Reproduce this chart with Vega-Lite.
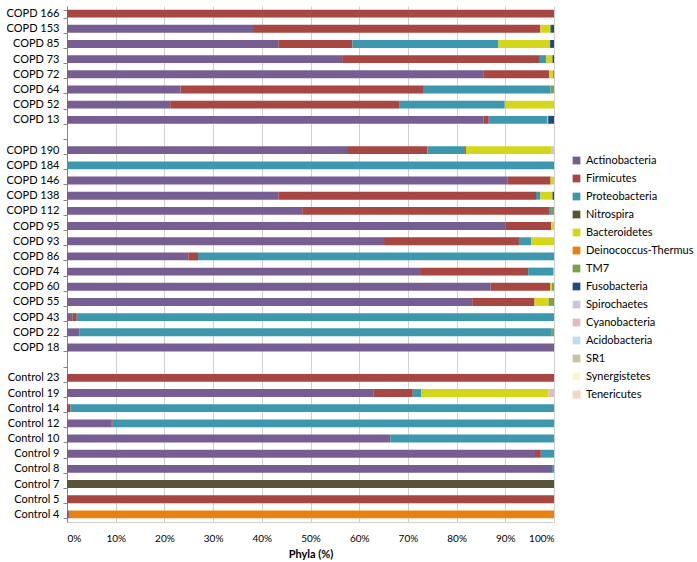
{
  "$schema": "https://vega.github.io/schema/vega-lite/v6.json",
  "width": 487,
  "height": 516,
  "padding": {"left": 6, "top": 0, "right": 5, "bottom": 2},
  "background": "white",
  "config": {"view": {"stroke": null}, "font": "Lato"},
  "datasets": {
    "phyla": [
      {"p": "Actinobacteria", "k": 1},
      {"p": "Firmicutes", "k": 2},
      {"p": "Proteobacteria", "k": 3},
      {"p": "Nitrospira", "k": 4},
      {"p": "Bacteroidetes", "k": 5},
      {"p": "Deinococcus-Thermus", "k": 6},
      {"p": "TM7", "k": 7},
      {"p": "Fusobacteria", "k": 8},
      {"p": "Spirochaetes", "k": 9},
      {"p": "Cyanobacteria", "k": 10},
      {"p": "Acidobacteria", "k": 11},
      {"p": "SR1", "k": 12},
      {"p": "Synergistetes", "k": 13},
      {"p": "Tenericutes", "k": 14}
    ]
  },
  "data": {"values": [
    {"s": "COPD 166", "p": "Firmicutes", "v": 100},
    {"s": "COPD 153", "p": "Actinobacteria", "v": 38.2},
    {"s": "COPD 153", "p": "Firmicutes", "v": 59.0},
    {"s": "COPD 153", "p": "TM7", "v": 0.3},
    {"s": "COPD 153", "p": "Bacteroidetes", "v": 1.9},
    {"s": "COPD 153", "p": "Fusobacteria", "v": 0.6},
    {"s": "COPD 85", "p": "Actinobacteria", "v": 43.4},
    {"s": "COPD 85", "p": "Firmicutes", "v": 15.2},
    {"s": "COPD 85", "p": "Proteobacteria", "v": 30.0},
    {"s": "COPD 85", "p": "Bacteroidetes", "v": 10.6},
    {"s": "COPD 85", "p": "Fusobacteria", "v": 0.8},
    {"s": "COPD 73", "p": "Actinobacteria", "v": 56.5},
    {"s": "COPD 73", "p": "Firmicutes", "v": 40.6},
    {"s": "COPD 73", "p": "Proteobacteria", "v": 1.3},
    {"s": "COPD 73", "p": "Bacteroidetes", "v": 1.3},
    {"s": "COPD 73", "p": "Fusobacteria", "v": 0.3},
    {"s": "COPD 72", "p": "Actinobacteria", "v": 85.6},
    {"s": "COPD 72", "p": "Firmicutes", "v": 13.4},
    {"s": "COPD 72", "p": "Bacteroidetes", "v": 0.8},
    {"s": "COPD 72", "p": "TM7", "v": 0.2},
    {"s": "COPD 64", "p": "Actinobacteria", "v": 23.3},
    {"s": "COPD 64", "p": "Firmicutes", "v": 49.8},
    {"s": "COPD 64", "p": "Proteobacteria", "v": 26.2},
    {"s": "COPD 64", "p": "TM7", "v": 0.7},
    {"s": "COPD 52", "p": "Actinobacteria", "v": 21.2},
    {"s": "COPD 52", "p": "Firmicutes", "v": 47.0},
    {"s": "COPD 52", "p": "Proteobacteria", "v": 21.7},
    {"s": "COPD 52", "p": "Bacteroidetes", "v": 10.1},
    {"s": "COPD 13", "p": "Actinobacteria", "v": 85.5},
    {"s": "COPD 13", "p": "Firmicutes", "v": 1.1},
    {"s": "COPD 13", "p": "Proteobacteria", "v": 12.0},
    {"s": "COPD 13", "p": "Bacteroidetes", "v": 0.2},
    {"s": "COPD 13", "p": "Fusobacteria", "v": 1.2},
    {"s": "COPD 190", "p": "Actinobacteria", "v": 57.5},
    {"s": "COPD 190", "p": "Firmicutes", "v": 16.5},
    {"s": "COPD 190", "p": "Proteobacteria", "v": 7.6},
    {"s": "COPD 190", "p": "Nitrospira", "v": 0.3},
    {"s": "COPD 190", "p": "Bacteroidetes", "v": 17.5},
    {"s": "COPD 190", "p": "Spirochaetes", "v": 0.6},
    {"s": "COPD 184", "p": "Proteobacteria", "v": 100},
    {"s": "COPD 146", "p": "Actinobacteria", "v": 90.5},
    {"s": "COPD 146", "p": "Firmicutes", "v": 8.8},
    {"s": "COPD 146", "p": "Bacteroidetes", "v": 0.7},
    {"s": "COPD 138", "p": "Actinobacteria", "v": 43.4},
    {"s": "COPD 138", "p": "Firmicutes", "v": 52.9},
    {"s": "COPD 138", "p": "Proteobacteria", "v": 0.9},
    {"s": "COPD 138", "p": "Bacteroidetes", "v": 2.5},
    {"s": "COPD 138", "p": "Fusobacteria", "v": 0.3},
    {"s": "COPD 112", "p": "Actinobacteria", "v": 48.3},
    {"s": "COPD 112", "p": "Firmicutes", "v": 50.7},
    {"s": "COPD 112", "p": "Proteobacteria", "v": 0.4},
    {"s": "COPD 112", "p": "TM7", "v": 0.6},
    {"s": "COPD 95", "p": "Actinobacteria", "v": 90.0},
    {"s": "COPD 95", "p": "Firmicutes", "v": 9.4},
    {"s": "COPD 95", "p": "Bacteroidetes", "v": 0.6},
    {"s": "COPD 93", "p": "Actinobacteria", "v": 65.1},
    {"s": "COPD 93", "p": "Firmicutes", "v": 27.7},
    {"s": "COPD 93", "p": "Proteobacteria", "v": 2.5},
    {"s": "COPD 93", "p": "Bacteroidetes", "v": 4.7},
    {"s": "COPD 86", "p": "Actinobacteria", "v": 24.9},
    {"s": "COPD 86", "p": "Firmicutes", "v": 2.0},
    {"s": "COPD 86", "p": "Proteobacteria", "v": 73.1},
    {"s": "COPD 74", "p": "Actinobacteria", "v": 72.5},
    {"s": "COPD 74", "p": "Firmicutes", "v": 22.2},
    {"s": "COPD 74", "p": "Proteobacteria", "v": 5.1},
    {"s": "COPD 74", "p": "Bacteroidetes", "v": 0.2},
    {"s": "COPD 60", "p": "Actinobacteria", "v": 87.0},
    {"s": "COPD 60", "p": "Firmicutes", "v": 12.2},
    {"s": "COPD 60", "p": "Bacteroidetes", "v": 0.4},
    {"s": "COPD 60", "p": "TM7", "v": 0.4},
    {"s": "COPD 55", "p": "Actinobacteria", "v": 83.2},
    {"s": "COPD 55", "p": "Firmicutes", "v": 12.8},
    {"s": "COPD 55", "p": "Bacteroidetes", "v": 2.9},
    {"s": "COPD 55", "p": "TM7", "v": 1.1},
    {"s": "COPD 43", "p": "Actinobacteria", "v": 1.1},
    {"s": "COPD 43", "p": "Firmicutes", "v": 0.9},
    {"s": "COPD 43", "p": "Proteobacteria", "v": 98.0},
    {"s": "COPD 22", "p": "Actinobacteria", "v": 2.6},
    {"s": "COPD 22", "p": "Proteobacteria", "v": 96.8},
    {"s": "COPD 22", "p": "TM7", "v": 0.6},
    {"s": "COPD 18", "p": "Actinobacteria", "v": 100},
    {"s": "Control 23", "p": "Firmicutes", "v": 100},
    {"s": "Control 19", "p": "Actinobacteria", "v": 63.0},
    {"s": "Control 19", "p": "Firmicutes", "v": 8.0},
    {"s": "Control 19", "p": "Proteobacteria", "v": 1.7},
    {"s": "Control 19", "p": "Bacteroidetes", "v": 26.2},
    {"s": "Control 19", "p": "Cyanobacteria", "v": 1.1},
    {"s": "Control 14", "p": "Firmicutes", "v": 0.7},
    {"s": "Control 14", "p": "Proteobacteria", "v": 99.3},
    {"s": "Control 12", "p": "Actinobacteria", "v": 9.2},
    {"s": "Control 12", "p": "Firmicutes", "v": 0.2},
    {"s": "Control 12", "p": "Proteobacteria", "v": 90.6},
    {"s": "Control 10", "p": "Actinobacteria", "v": 66.1},
    {"s": "Control 10", "p": "Firmicutes", "v": 0.3},
    {"s": "Control 10", "p": "Proteobacteria", "v": 33.6},
    {"s": "Control 9", "p": "Actinobacteria", "v": 96.1},
    {"s": "Control 9", "p": "Firmicutes", "v": 1.2},
    {"s": "Control 9", "p": "Proteobacteria", "v": 2.7},
    {"s": "Control 8", "p": "Actinobacteria", "v": 99.6},
    {"s": "Control 8", "p": "Proteobacteria", "v": 0.4},
    {"s": "Control 7", "p": "Nitrospira", "v": 100},
    {"s": "Control 5", "p": "Firmicutes", "v": 100},
    {"s": "Control 4", "p": "Actinobacteria", "v": 0.4},
    {"s": "Control 4", "p": "Deinococcus-Thermus", "v": 99.6}
  ]},
  "transform": [
    {"lookup": "p", "from": {"data": {"name": "phyla"}, "key": "p", "fields": ["k"]}}
  ],
  "mark": {"type": "bar"},
  "encoding": {
    "y": {
      "field": "s",
      "type": "nominal",
      "scale": {
        "domain": ["COPD 166", "COPD 153", "COPD 85", "COPD 73", "COPD 72", "COPD 64", "COPD 52", "COPD 13", " ", "COPD 190", "COPD 184", "COPD 146", "COPD 138", "COPD 112", "COPD 95", "COPD 93", "COPD 86", "COPD 74", "COPD 60", "COPD 55", "COPD 43", "COPD 22", "COPD 18", "  ", "Control 23", "Control 19", "Control 14", "Control 12", "Control 10", "Control 9", "Control 8", "Control 7", "Control 5", "Control 4"],
        "paddingInner": 0.48,
        "paddingOuter": 0.24
      },
      "axis": {
        "title": null,
        "tickBand": "extent",
        "tickSize": 4,
        "tickColor": "#868686",
        "domainColor": "#868686",
        "labelPadding": 4,
        "labelFontSize": 11,
        "labelColor": "#000000"
      }
    },
    "x": {
      "field": "v",
      "type": "quantitative",
      "stack": "normalize",
      "axis": {
        "title": "Phyla (%)",
        "titleFontWeight": "bold",
        "titleFontSize": 11,
        "titleColor": "#000000",
        "titlePadding": 5,
        "format": ".0%",
        "tickCount": 10,
        "grid": true,
        "gridColor": "#d0d0d0",
        "domainColor": "#d0d0d0",
        "tickSize": 0,
        "labelPadding": 11,
        "labelFontSize": 10,
        "labelColor": "#000000"
      }
    },
    "color": {
      "field": "p",
      "type": "nominal",
      "scale": {
        "domain": ["Actinobacteria", "Firmicutes", "Proteobacteria", "Nitrospira", "Bacteroidetes", "Deinococcus-Thermus", "TM7", "Fusobacteria", "Spirochaetes", "Cyanobacteria", "Acidobacteria", "SR1", "Synergistetes", "Tenericutes"],
        "range": ["#775e92", "#a84642", "#3d98ae", "#5a5437", "#d5d61a", "#e8820e", "#7e9f4c", "#1f4b78", "#cbc5dd", "#e6b9bd", "#b9dfea", "#c8c1a3", "#fcf8cc", "#f9d5bf"]
      },
      "legend": {
        "title": " ",
        "titleFontSize": 11,
        "titlePadding": 138,
        "offset": 17,
        "padding": 0,
        "symbolType": "square",
        "symbolSize": 60,
        "labelFontSize": 11,
        "labelColor": "#000000",
        "rowPadding": 6
      }
    },
    "order": {"field": "k", "type": "quantitative", "sort": "ascending"}
  }
}
